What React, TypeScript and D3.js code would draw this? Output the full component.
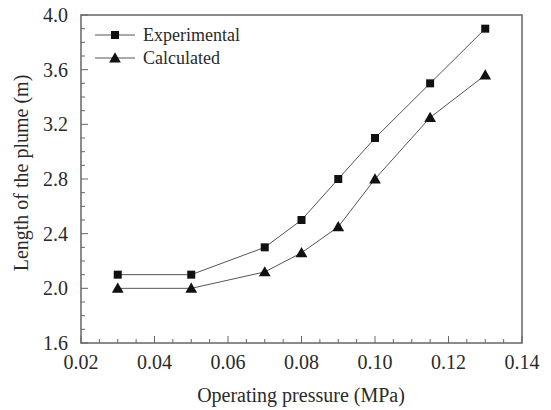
import React, { useEffect, useRef } from 'react';
import * as d3 from 'd3';

const pressure = [0.03, 0.05, 0.07, 0.08, 0.09, 0.1, 0.115, 0.13];
const experimental = [2.1, 2.1, 2.3, 2.5, 2.8, 3.1, 3.5, 3.9];
const calculated = [2.0, 2.0, 2.12, 2.26, 2.45, 2.8, 3.25, 3.56];
const xTicks = [0.02, 0.04, 0.06, 0.08, 0.1, 0.12, 0.14];
const yTicks = [1.6, 2.0, 2.4, 2.8, 3.2, 3.6, 4.0];

const W = 551;
const H = 410;
const margin = { left: 81, top: 15, right: 29, bottom: 67 };
const FONT = '"Liberation Serif", "DejaVu Serif", serif';

export default function App() {
  const ref = useRef<SVGSVGElement>(null);

  useEffect(() => {
    const svg = d3.select(ref.current);
    svg.selectAll('*').remove();

    const x = d3.scaleLinear().domain([0.02, 0.14]).range([margin.left, W - margin.right]);
    const y = d3.scaleLinear().domain([1.6, 4.0]).range([H - margin.bottom, margin.top]);
    const axisColor = '#666';
    const textColor = '#2a2a2a';

    // frame
    svg.append('rect')
      .attr('x', x(0.02)).attr('y', y(4.0))
      .attr('width', x(0.14) - x(0.02)).attr('height', y(1.6) - y(4.0))
      .attr('fill', 'none').attr('stroke', axisColor).attr('stroke-width', 1.5);

    // x ticks (inward, bottom only)
    const xMinor = d3.range(0.02, 0.1401, 0.005);
    svg.append('g').selectAll('line').data(xMinor).join('line')
      .attr('x1', d => x(d)).attr('x2', d => x(d))
      .attr('y1', y(1.6))
      .attr('y2', (d, i) => y(1.6) - (i % 4 === 0 ? 7 : 4))
      .attr('stroke', axisColor).attr('stroke-width', 1);
    svg.append('g').selectAll('text').data(xTicks).join('text')
      .attr('x', d => x(d)).attr('y', y(1.6) + 26)
      .attr('text-anchor', 'middle')
      .attr('font-family', FONT).attr('font-size', 20).attr('fill', textColor)
      .text(d => d.toFixed(2));

    // y ticks (inward, left only)
    const yMinor = d3.range(1.6, 4.001, 0.1);
    svg.append('g').selectAll('line').data(yMinor).join('line')
      .attr('y1', d => y(d)).attr('y2', d => y(d))
      .attr('x1', x(0.02))
      .attr('x2', (d, i) => x(0.02) + (i % 4 === 0 ? 7 : 4))
      .attr('stroke', axisColor).attr('stroke-width', 1);
    svg.append('g').selectAll('text').data(yTicks).join('text')
      .attr('x', x(0.02) - 13).attr('y', d => y(d) + 7)
      .attr('text-anchor', 'end')
      .attr('font-family', FONT).attr('font-size', 20).attr('fill', textColor)
      .text(d => d.toFixed(1));

    // axis titles
    svg.append('text')
      .attr('x', 301).attr('y', 402)
      .attr('text-anchor', 'middle')
      .attr('font-family', FONT).attr('font-size', 20).attr('fill', textColor)
      .text('Operating pressure (MPa)');
    svg.append('text')
      .attr('transform', 'translate(28,173) rotate(-90)')
      .attr('text-anchor', 'middle')
      .attr('font-family', FONT).attr('font-size', 20).attr('fill', textColor)
      .text('Length of the plume (m)');

    const line = d3.line<number>().x((d, i) => x(pressure[i])).y(d => y(d));
    const tri = d3.symbol().type(d3.symbolTriangle).size(60);

    svg.append('path').attr('d', line(experimental)!)
      .attr('fill', 'none').attr('stroke', '#555').attr('stroke-width', 1);
    svg.append('path').attr('d', line(calculated)!)
      .attr('fill', 'none').attr('stroke', '#555').attr('stroke-width', 1);

    svg.append('g').selectAll('rect').data(experimental).join('rect')
      .attr('x', (d, i) => x(pressure[i]) - 4).attr('y', d => y(d) - 4)
      .attr('width', 8).attr('height', 8).attr('fill', '#111');
    svg.append('g').selectAll('path').data(calculated).join('path')
      .attr('transform', (d, i) => `translate(${x(pressure[i])},${y(d) + 1})`)
      .attr('d', tri()!).attr('fill', '#111');

    // legend
    const legend = svg.append('g');
    const items = [
      { label: 'Experimental', shape: 'square', ly: 35 },
      { label: 'Calculated', shape: 'triangle', ly: 58 },
    ];
    items.forEach(it => {
      legend.append('line').attr('x1', 95).attr('x2', 135).attr('y1', it.ly).attr('y2', it.ly)
        .attr('stroke', '#555').attr('stroke-width', 1);
      if (it.shape === 'square') {
        legend.append('rect').attr('x', 111).attr('y', it.ly - 4).attr('width', 8).attr('height', 8).attr('fill', '#111');
      } else {
        legend.append('path').attr('transform', `translate(115,${it.ly + 1})`).attr('d', tri()!).attr('fill', '#111');
      }
      legend.append('text').attr('x', 143).attr('y', it.ly + 6)
        .attr('font-family', FONT).attr('font-size', 18).attr('fill', textColor)
        .text(it.label);
    });
  }, []);

  return (
    <svg ref={ref} width={W} height={H} style={{ position: 'absolute', left: 0, top: 0, background: '#fff' }} />
  );
}
